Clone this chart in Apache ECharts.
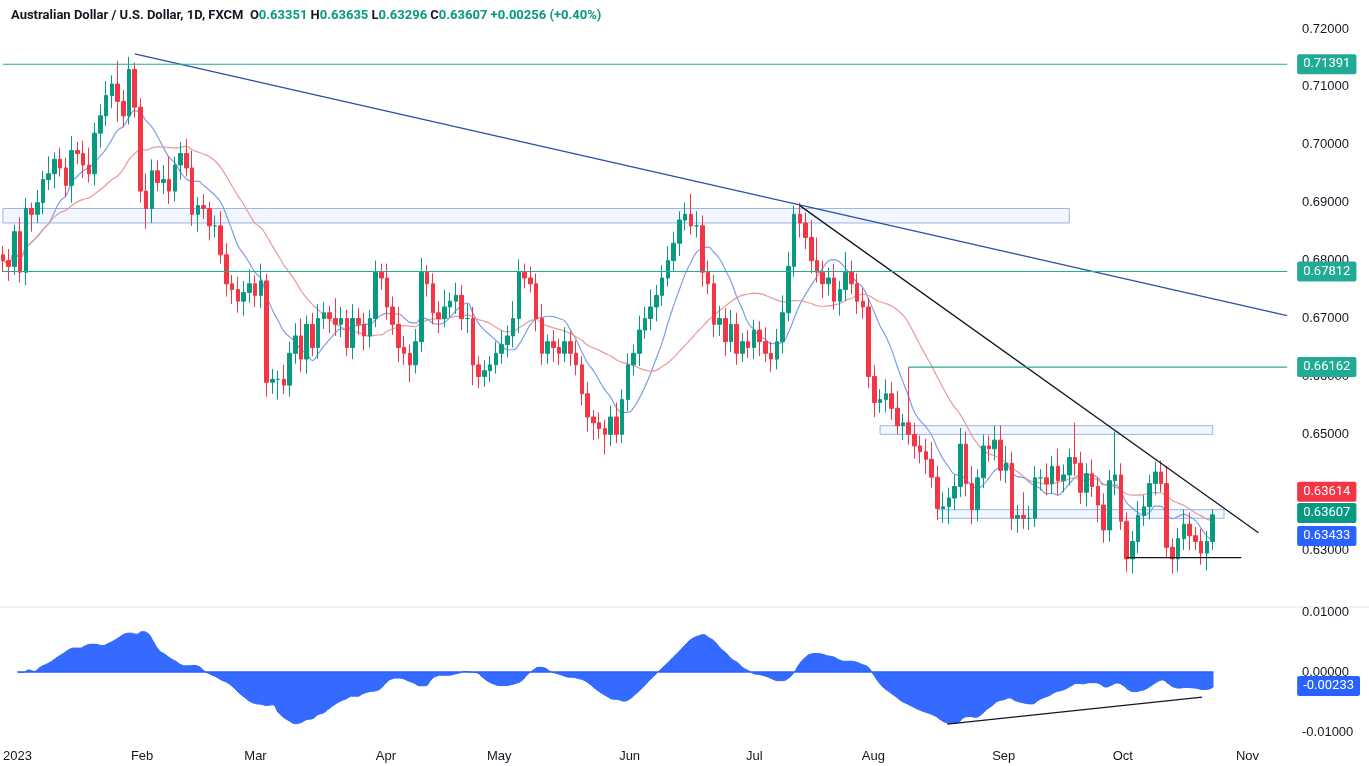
<!DOCTYPE html>
<html><head><meta charset="utf-8">
<script src="https://cdn.jsdelivr.net/npm/echarts@6/dist/echarts.min.js"></script>
<style>html,body{margin:0;padding:0;background:#fff}#c{width:1369px;height:766px}</style>
</head><body><div id="c"></div>
<script>
const closes = [
0.6800,0.6790,0.6850,0.6780,0.6890,0.6880,0.6900,0.6940,0.6950,0.6975,0.6960,0.6930,0.6990,0.6985,0.6965,0.6950,0.7020,0.7050,0.7085,0.7105,0.7075,0.7050,
0.7130,0.7065,0.6920,0.6890,0.6955,0.6935,0.6940,0.6920,0.6965,0.6985,0.6960,0.6880,0.6895,0.6890,0.6860,0.6860,0.6810,0.6760,0.6750,0.6730,
0.6745,0.6760,0.6740,0.6765,0.6590,0.6595,0.6595,0.6585,0.6640,0.6670,0.6630,0.6690,0.6650,0.6700,0.6710,0.6700,0.6690,0.6700,0.6650,0.6700,0.6690,0.6670,0.6700,
0.6780,0.6770,0.6720,0.6690,0.6650,0.6640,0.6620,0.6660,0.6780,0.6760,0.6710,0.6700,0.6720,0.6730,0.6740,0.6700,0.6700,0.6620,0.6600,0.6610,
0.6620,0.6640,0.6655,0.6670,0.6700,0.6780,0.6770,0.6760,0.6700,0.6640,0.6660,0.6650,0.6640,0.6660,0.6640,0.6620,0.6570,0.6530,0.6520,0.6510,0.6500,0.6530,0.6500,
0.6560,0.6620,0.6640,0.6680,0.6700,0.6720,0.6740,0.6770,0.6800,0.6830,0.6870,0.6880,0.6860,0.6860,0.6780,0.6760,0.6690,0.6700,0.6660,0.6690,0.6640,0.6660,
0.6650,0.6680,0.6660,0.6640,0.6630,0.6660,0.6710,0.6790,0.6880,0.6865,0.6840,0.6800,0.6780,0.6760,0.6770,0.6730,0.6750,0.6780,0.6760,0.6730,0.6720,
0.6600,0.6555,0.6560,0.6570,0.6545,0.6515,0.6520,0.6500,0.6480,0.6470,0.6457,
0.6426,0.6372,0.6375,0.6390,0.6410,0.6483,0.6415,0.6370,0.6425,0.6480,0.6475,0.6490,0.6438,0.6450,0.6355,0.6360,0.6355,0.6355,0.6425,0.6425,0.6415,0.6445,0.6420,0.6430,0.6460,0.6450,0.6400,0.6432,0.6410,0.6378,0.6335,0.6420,0.6430,0.6350,0.6285,0.6315,0.6360,0.6375,0.6415,0.6435,0.6415,0.6305,0.6285,0.6320,0.6345,0.6325,0.6315,0.6295,0.6315,0.6361];
const firstOpen = 0.6810;
const upWickPips = [
15,20,12,25,18,10,22,15,30,12,20,18,25,15,22,30,18,20,25,15,40,20,
22,12,15,30,20,18,25,40,15,20,25,30,15,20,12,18,25,20,15,22,
20,25,15,30,12,18,15,25,20,22,30,15,20,25,18,12,35,20,15,25,18,20,15,
20,15,25,18,30,20,15,22,25,12,18,20,30,15,22,18,25,20,15,18,
15,20,25,18,30,22,15,20,18,25,12,20,15,25,18,22,15,20,12,18,15,20,25,
18,20,15,25,20,30,18,22,25,20,15,20,35,25,18,20,15,22,18,25,20,15,
20,18,15,25,20,22,30,25,15,20,18,30,40,20,18,25,15,35,20,18,22,
15,20,18,25,20,30,15,96,20,18,22,30,20,25,18,20,28,22,30,15,20,18,25,
25,30,20,18,40,22,20,15,25,18,30,18,15,60,20,18,25,15,20,18,75,
20,15,18,25,20,15,18,20,30,15,18,25,20,15,22,18,10];
const dnWickPips = [
20,25,15,18,22,30,15,20,18,25,15,20,30,18,22,15,20,25,18,22,35,20,
15,18,20,35,25,15,20,22,18,25,15,20,30,18,25,20,15,22,25,20,
25,18,20,22,25,20,35,15,20,18,22,25,15,20,18,25,20,22,15,20,18,25,20,
15,20,22,18,25,20,30,15,18,22,20,25,15,18,22,20,25,35,20,18,
20,15,18,22,20,25,18,15,22,20,18,25,20,15,22,18,20,25,30,18,35,20,15,
15,20,18,22,15,20,25,18,15,20,22,18,15,20,25,18,22,20,25,18,20,15,
18,20,25,15,22,18,20,15,18,25,20,22,18,25,20,15,25,20,18,22,20,
20,25,18,22,20,15,25,18,22,20,25,18,20,25,30,20,18,22,25,20,18,22,20,
18,22,20,25,18,20,15,22,20,18,25,20,18,22,20,25,18,30,22,20,25,
15,22,25,20,18,22,20,15,18,25,22,20,25,15,20,30,15];
const priceTicks = [0.63,0.64,0.65,0.66,0.67,0.68,0.69,0.70,0.71,0.72];
const oscTicks = [-0.01,0,0.01];
const monthNames = ['2023','Feb','Mar','Apr','May','Jun','Jul','Aug','Sep','Oct','Nov','Dec'];
const priceTags = [
 [0,0.71391,'#22ab94','#22ab94'],[0,0.67812,'#22ab94','#22ab94'],[158,0.66162,'#22ab94','#22ab94'],
 [200,0.63614,null,'#f23645'],[200,0.63607,null,'#089981'],[200,0.63433,null,'#2962ff']];
const tagShift = [0,0,0,-23,-2,11];
const oscTags = [[200,-0.00233,null,'#2962ff']];
const trendLines = [
 [23,0.7157,224,0.6705,'#2a4fa8',0],
 [139,0.6895,219,0.6330,'#131722',0],
 [196,0.6287,216,0.6287,'#131722',0],
 [0,0,211,0,'#2962ff',1],
 [164,-0.0087,209,-0.0042,'#131722',1]];

const dates=[]; let d=new Date(Date.UTC(2023,0,2));
while(dates.length<225){const w=d.getUTCDay(); if(w!==0&&w!==6) dates.push(new Date(d)); d=new Date(d.getTime()+86400000);}
const cats=dates.map(x=>x.toISOString().slice(0,10));
const monthStart={}; for(let i=0;i<dates.length;i++){const m=dates[i].getUTCMonth(); if(!(m in monthStart)) monthStart[m]=i;}
const firstIdx=new Set(Object.values(monthStart));

const candles=closes.map((c,i)=>{const o=i?closes[i-1]:firstOpen;
 return [o,c,+(Math.min(o,c)-dnWickPips[i]*0.0001).toFixed(5),+(Math.max(o,c)+upWickPips[i]*0.0001).toFixed(5)];});
function sma(n){return closes.map((_,i)=>{const s=Math.max(0,i-n+1);let t=0;for(let k=s;k<=i;k++)t+=closes[k];return +(t/(i-s+1)).toFixed(5);});}
function ema(n){const a=2/(n+1);let e=closes[0];return closes.map(c=>{e=c*a+e*(1-a);return e;});}
const e12=ema(12),e26=ema(26); const osc=closes.map((_,i)=>+(e12[i]-e26[i]).toFixed(5));

function tagSeries(t, pane, shift){
 return {type:'line',xAxisIndex:pane,yAxisIndex:pane,data:[[t[0],t[1]],[224,t[1]]],showSymbol:false,silent:true,z:6,
  itemStyle:{color:t[3]},labelLayout:{hideOverlap:false},
  lineStyle:{color:t[2]||'#fff',width:t[2]?1.2:0,opacity:t[2]?1:0},
  endLabel:{show:true,formatter:t[1].toFixed(5),color:'#fff',backgroundColor:t[3],padding:[4,6,3,6],borderRadius:2,fontSize:13,distance:10,offset:[0,shift||0],fontFamily:'Roboto'}};
}
function trendSeries(l){
 return {type:'line',xAxisIndex:l[5],yAxisIndex:l[5],data:[[l[0],l[1]],[l[2],l[3]]],showSymbol:false,silent:true,z:4,
  itemStyle:{color:l[4]},lineStyle:{color:l[4],width:1.3}};
}
const ch=echarts.init(document.getElementById('c'));
ch.setOption({
 animation:false,
 title:{left:6,top:4,text:'{a|Australian Dollar / U.S. Dollar, 1D, FXCM  }{b|O}{g|0.63351 }{b|H}{g|0.63635 }{b|L}{g|0.63296 }{b|C}{g|0.63607 +0.00256 (+0.40%)}',
  textStyle:{rich:{a:{color:'#131722',fontSize:13,fontFamily:'Roboto'},b:{color:'#131722',fontSize:13,fontFamily:'Roboto'},g:{color:'#089981',fontSize:13,fontFamily:'Roboto'}}}},
 grid:[{left:0,right:79,top:0,height:600},{left:0,right:79,top:607,height:131}],
 xAxis:[
  {type:'category',data:cats,gridIndex:0,axisLine:{show:false},axisTick:{show:false},axisLabel:{show:false},splitLine:{show:false}},
  {type:'category',data:cats,gridIndex:1,axisLine:{show:false},axisTick:{show:false},splitLine:{show:false},
   axisLabel:{color:'#131722',fontSize:13,margin:12,interval:(i)=>firstIdx.has(i),formatter:(v,i)=>monthNames[dates[i].getUTCMonth()]}}],
 yAxis:[
  {type:'value',gridIndex:0,position:'right',min:0.6214,max:0.7250,axisLine:{show:false},axisTick:{show:false},splitLine:{show:false},
   axisLabel:{customValues:priceTicks,formatter:v=>v.toFixed(5),color:'#131722',fontSize:13,margin:12}},
  {type:'value',gridIndex:1,position:'right',min:-0.011,max:0.01083,axisLine:{show:false},axisTick:{show:false},splitLine:{show:false},
   axisLabel:{customValues:oscTicks,formatter:v=>v.toFixed(5),color:'#131722',fontSize:13,margin:12}}],
 axisPointer:{show:false},
 graphic:[{type:'line',shape:{x1:0,y1:607,x2:1369,y2:607},style:{stroke:'#e0e3eb',lineWidth:1}}],
 series:[
  {type:'line',xAxisIndex:0,yAxisIndex:0,data:sma(9),showSymbol:false,smooth:true,itemStyle:{color:'#7e9ee6'},lineStyle:{color:'#7e9ee6',width:1.2},z:1},
  {type:'line',xAxisIndex:0,yAxisIndex:0,data:sma(21),showSymbol:false,smooth:true,itemStyle:{color:'#e89a9a'},lineStyle:{color:'#e89a9a',width:1.2},z:1},
  {type:'candlestick',xAxisIndex:0,yAxisIndex:0,data:candles,barWidth:4,z:3,
   itemStyle:{color:'#089981',color0:'#f23645',borderColor:'#089981',borderColor0:'#f23645'},
   markArea:{silent:true,itemStyle:{color:'rgba(41,98,255,0.06)',borderColor:'#9db2e8',borderWidth:1},data:[
    [{coord:[0,0.6865]},{coord:[186,0.6890]}],
    [{coord:[153,0.6500]},{coord:[211,0.6515]}],
    [{coord:[163,0.6355]},{coord:[213,0.6370]}]]}},
  {type:'line',xAxisIndex:1,yAxisIndex:1,data:osc,showSymbol:false,smooth:true,itemStyle:{color:'#2962ff'},lineStyle:{color:'#2962ff',width:1},
   areaStyle:{color:'#2962ff',opacity:0.95,origin:0}},
  ...trendLines.map(trendSeries),
  ...priceTags.map((t,i)=>tagSeries(t,0,tagShift[i])),
  ...oscTags.map(t=>tagSeries(t,1,0))
 ]
});
</script></body></html>
